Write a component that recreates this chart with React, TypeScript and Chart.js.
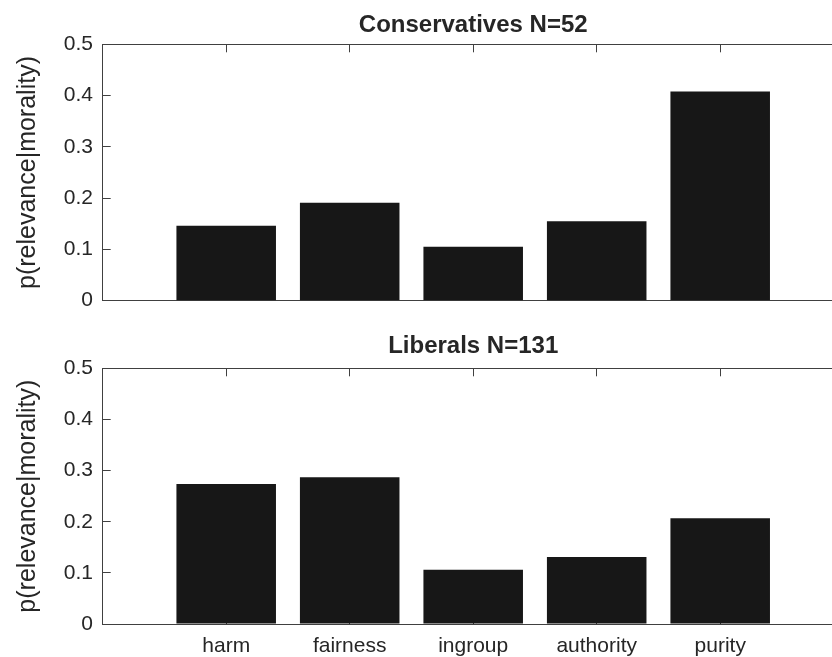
import React, { useEffect, useRef } from 'react';
import { Chart, registerables } from 'chart.js';

Chart.register(...registerables);

const categories = ['harm', 'fairness', 'ingroup', 'authority', 'purity'];
const conservatives = [0.146, 0.191, 0.105, 0.155, 0.408];
const liberals = [0.274, 0.287, 0.106, 0.131, 0.207];
const titles = ['Conservatives N=52', 'Liberals N=131'];
const yLabel = 'p(relevance|morality)';

const FONT = "'Liberation Sans', Arial, Helvetica, sans-serif";
const INK = '#262626';
const AXIS = '#404040';
const BAR = '#171717';

type PanelLayout = {
  top: number;
  height: number;
  titleTop: number;
  titleBottom: number;
  xHeight: number;
  showX: boolean;
};

const CANVAS_W = 862;

function Panel({ values, title, layout }: { values: number[]; title: string; layout: PanelLayout }) {
  const ref = useRef<HTMLCanvasElement | null>(null);
  useEffect(() => {
    if (!ref.current) return;
    const gridCommon = {
      drawOnChartArea: false,
      offset: false,
      tickLength: -8,
      color: AXIS,
      tickColor: AXIS,
      lineWidth: 1,
    };
    const chart = new Chart(ref.current, {
      type: 'bar',
      data: {
        datasets: [
          {
            data: values.map((v, i) => ({ x: i + 1, y: v })),
            backgroundColor: BAR,
            borderColor: '#8a8a8a',
            borderWidth: 0,
            categoryPercentage: 0.806,
            barPercentage: 1,
            xAxisID: 'x',
            yAxisID: 'y',
          },
        ],
      },
      options: {
        responsive: false,
        animation: false,
        layout: { padding: { left: 0, right: 18.3, top: 0, bottom: 0 } },
        plugins: {
          legend: { display: false },
          tooltip: { enabled: false },
          title: {
            display: true,
            text: title,
            fullSize: false,
            color: INK,
            font: { family: FONT, size: 24, weight: 'bold' },
            padding: { top: layout.titleTop, bottom: layout.titleBottom },
          },
        },
        scales: {
          x: {
            type: 'linear',
            position: 'bottom',
            offset: false,
            min: 0,
            max: 6,
            ticks: {
              stepSize: 1,
              autoSkip: false,
              maxRotation: 0,
              display: layout.showX,
              color: INK,
              font: { family: FONT, size: 21 },
              padding: 18,
              callback: (v: any) => categories[Number(v) - 1] ?? '',
            },
            grid: gridCommon,
            border: { color: AXIS, width: 1 },
            afterFit: (s: any) => {
              s.height = layout.xHeight;
            },
          },
          x2: {
            type: 'linear',
            position: 'top',
            offset: false,
            min: 0,
            max: 6,
            ticks: { stepSize: 1, autoSkip: false, display: false },
            grid: gridCommon,
            border: { color: AXIS, width: 1 },
            afterFit: (s: any) => {
              s.height = 0;
            },
          },
          y: {
            type: 'linear',
            position: 'left',
            min: 0,
            max: 0.5,
            ticks: {
              stepSize: 0.1,
              color: INK,
              font: { family: FONT, size: 21 },
              padding: 17.7,
            },
            grid: gridCommon,
            border: { color: AXIS, width: 1 },
            title: {
              display: true,
              text: yLabel,
              color: INK,
              font: { family: FONT, size: 25 },
              padding: { top: 13, bottom: 0 },
            },
            afterFit: (s: any) => {
              s.width = 102.7;
            },
          },
        },
      },
    } as any);
    return () => chart.destroy();
  }, [values, title, layout]);
  return (
    <canvas
      ref={ref}
      width={CANVAS_W}
      height={layout.height}
      style={{ position: 'absolute', left: 0, top: layout.top, width: CANVAS_W, height: layout.height }}
    />
  );
}

const topLayout: PanelLayout = { top: 0, height: 335, titleTop: 11, titleBottom: 4.5, xHeight: 34.3, showX: false };
const bottomLayout: PanelLayout = { top: 320, height: 337, titleTop: 12.3, titleBottom: 7.2, xHeight: 33, showX: true };

export default function App() {
  return (
    <div
      style={{
        position: 'fixed',
        left: 0,
        top: 0,
        width: 832,
        height: 657,
        overflow: 'hidden',
        background: '#ffffff',
      }}
    >
      <Panel values={conservatives} title={titles[0]} layout={topLayout} />
      <Panel values={liberals} title={titles[1]} layout={bottomLayout} />
    </div>
  );
}
